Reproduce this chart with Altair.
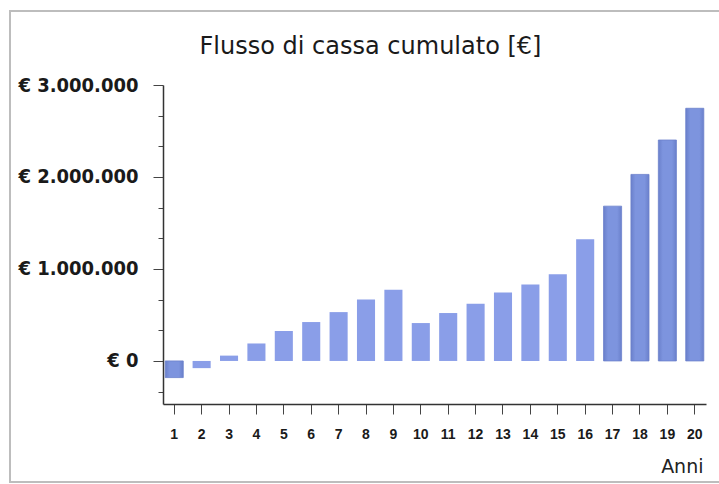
import altair as alt
import pandas as pd

# Cumulative cash flow per year (EUR)
years = ["1", "2", "3", "4", "5", "6", "7", "8", "9", "10",
         "11", "12", "13", "14", "15", "16", "17", "18", "19", "20"]
cash = [-181000, -78000, 58000, 190000, 325000, 423000, 531000, 667000,
        775000, 412000, 521000, 623000, 743000, 830000, 942000, 1324000,
        1683000, 2028000, 2402000, 2747000]

# Y axis: labelled major ticks and unlabelled minor ticks
y_major = [0, 1000000, 2000000, 3000000]
y_major_labels = ["€ 0", "€ 1.000.000", "€ 2.000.000", "€ 3.000.000"]
y_minor = [-333333, 333333, 666667, 1333333, 1666667, 2333333, 2666667]

shaded_years = ["1", "17", "18", "19", "20"]

df = pd.DataFrame({"anno": years, "flusso": cash})

label_expr = " : ".join(
    f"datum.value === {v} ? '{t}'" for v, t in zip(y_major, y_major_labels)
) + " : ''"

FONT = "DejaVu Sans"
FONT_NARROW = "DejaVu Sans Condensed, DejaVu Sans"

x_enc = alt.X(
    "anno:N",
    sort=years,
    scale=alt.Scale(domain=years, paddingInner=0.34, paddingOuter=0.08),
    axis=alt.Axis(
        title="Anni",
        titleFont=FONT,
        titleFontSize=19,
        titleFontWeight="normal",
        titleColor="#222222",
        titleAlign="right",
        titleBaseline="alphabetic",
        titleX=540,
        titleY=68,
        labelFont="Liberation Sans",
        labelFontSize=14,
        labelFontWeight="bold",
        labelColor="#1a1a1a",
        labelAngle=0,
        labelPadding=13,
        tickSize=10,
        tickColor="#444444",
        domainColor="#333333",
        domainWidth=1.5,
    ),
)

y_enc = alt.Y(
    "flusso:Q",
    scale=alt.Scale(domain=[-468000, 3000000], nice=False, zero=False),
    axis=alt.Axis(
        title=None,
        values=sorted(y_major + y_minor),
        labelExpr=label_expr,
        labelOverlap=False,
        labelFont=FONT_NARROW,
        labelFontSize=20,
        labelFontWeight="bold",
        labelColor="#1a1a1a",
        labelPadding=15,
        tickSize={"condition": {"test": "datum.value % 1000000 === 0", "value": 10}, "value": 5},
        tickColor="#444444",
        domainColor="#333333",
        domainWidth=1.5,
        grid=False,
    ),
)

base = alt.Chart(df)

flat_bars = base.transform_filter(
    ~alt.FieldOneOfPredicate(field="anno", oneOf=shaded_years)
).mark_bar(color="#8a9ee8").encode(x=x_enc, y=y_enc)

shaded_bars = base.transform_filter(
    alt.FieldOneOfPredicate(field="anno", oneOf=shaded_years)
).mark_bar(
    color=alt.Gradient(
        gradient="linear",
        x1=0, x2=1, y1=0, y2=0,
        stops=[
            alt.GradientStop(offset=0, color="#6a80cb"),
            alt.GradientStop(offset=0.25, color="#7d94de"),
            alt.GradientStop(offset=0.75, color="#7d94de"),
            alt.GradientStop(offset=1, color="#6a80cb"),
        ],
    ),
    stroke="#6c82cc",
    strokeWidth=0.8,
).encode(x=x_enc, y=y_enc)

# Outer frame around the whole figure
frame = alt.Chart(pd.DataFrame({"k": [0]})).mark_rect(
    filled=False, stroke="#bdbdbd", strokeWidth=2
).encode(
    x=alt.value(-153), x2=alt.value(575),
    y=alt.value(-74), y2=alt.value(397),
)

chart = alt.layer(frame, flat_bars, shaded_bars).properties(
    width=543,
    height=319,
    title=alt.TitleParams(
        "Flusso di cassa cumulato [€]",
        font=FONT,
        fontSize=24,
        fontWeight="normal",
        color="#1a1a1a",
        anchor="middle",
        dx=-64,
        dy=53,
    ),
    autosize=alt.AutoSizeParams(type="none"),
    padding={"left": 163, "top": 85, "right": 13, "bottom": 80},
    background="white",
).configure_view(stroke=None)

chart.save("out.html", embed_options={"renderer": "svg", "actions": False})
